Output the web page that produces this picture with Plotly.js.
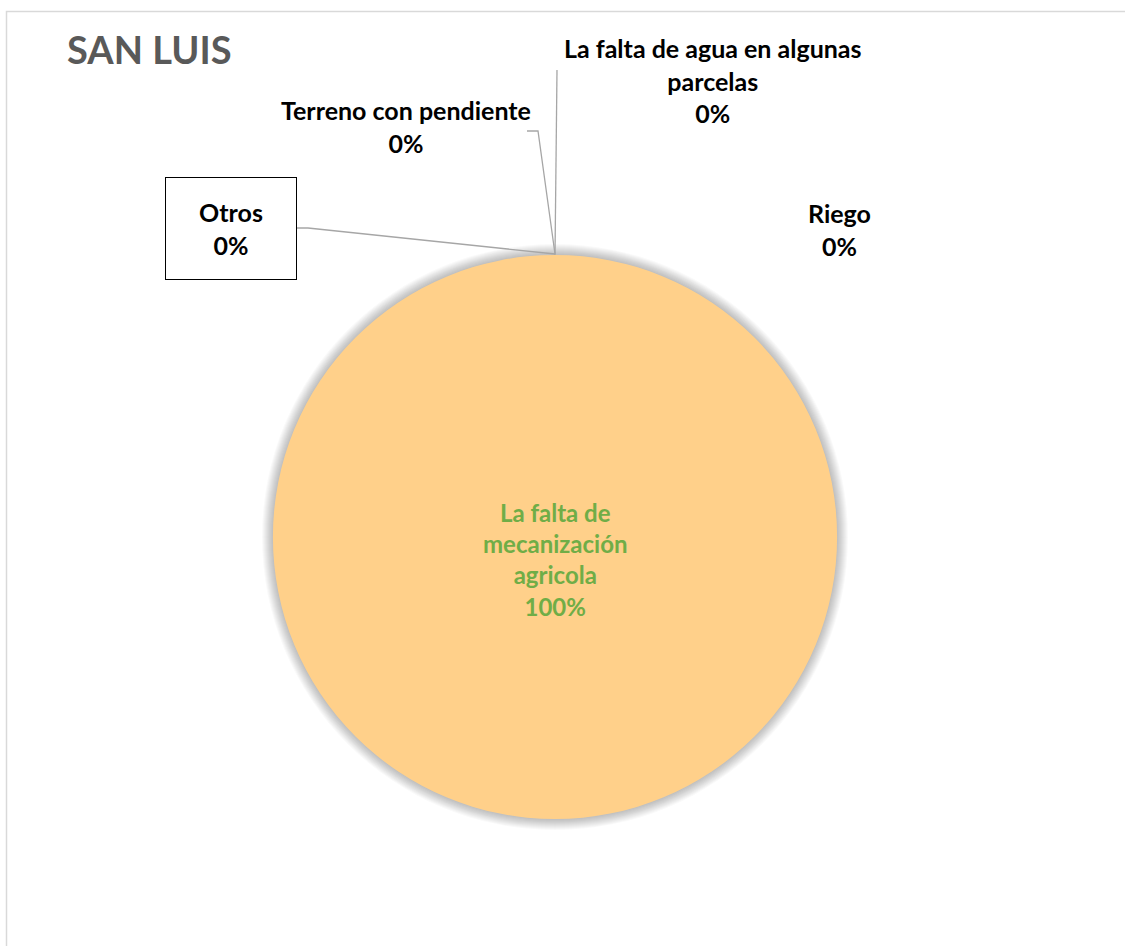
<!DOCTYPE html>
<html>
<head>
<meta charset="utf-8">
<script src="https://cdn.plot.ly/plotly-3.0.1.min.js"></script>
<style>html,body{margin:0;padding:0;background:#fff;}#chart{width:1125px;height:946px;}</style>
</head>
<body>
<div id="chart"></div>
<script>
// ---- data ----
const chartTitle = "SAN LUIS";
const categories = [
  "La falta de mecanización agricola",
  "Riego",
  "La falta de agua en algunas parcelas",
  "Terreno con pendiente",
  "Otros"
];
const displayLabels = [
  "La falta de<br>mecanización<br>agricola",
  "Riego",
  "La falta de agua en algunas<br>parcelas",
  "Terreno con pendiente",
  "Otros"
];
const values = [100, 0, 0, 0, 0];
const sliceColors = ["#FFD08A", "#A5A5A5", "#4472C4", "#ED7D31", "#5B9BD5"];

// ---- helpers ----
const W = 1125, H = 946;
const px = x => x / W;
const py = y => 1 - y / H;
const total = values.reduce((a, b) => a + b, 0);
const pct = v => Math.round(v / total * 100) + "%";

const cx = 555, cy = 537, R = 282;

const trace = {
  type: "pie",
  labels: categories,
  values: values,
  sort: false,
  direction: "clockwise",
  rotation: 0,
  marker: { colors: sliceColors, line: { color: "#FFD08A", width: 0 } },
  textinfo: "none",
  hoverinfo: "label+percent",
  domain: { x: [px(cx - R), px(cx + R)], y: [py(cy + R), py(cy - R)] },
  showlegend: false
};

const FONT = "Lato, 'Open Sans', sans-serif";
const labelFont = { family: FONT, size: 25, color: "#000000", weight: "bold" };

// label anchor positions (text centres)
const labelPos = {
  "La falta de mecanización agricola": [555, 559],
  "Riego": [839, 230],
  "La falta de agua en algunas parcelas": [713, 81],
  "Terreno con pendiente": [406, 127],
  "Otros": [231, 228]
};

const annotations = categories.map((c, i) => {
  const p = labelPos[c];
  const a = {
    xref: "paper", yref: "paper",
    x: px(p[0]), y: py(p[1]),
    xanchor: "center", yanchor: "middle",
    text: displayLabels[i] + "<br>" + pct(values[i]),
    showarrow: false,
    align: "center",
    font: Object.assign({}, labelFont)
  };
  if (i === 0) {
    a.font = { family: FONT, size: 24, color: "#70AD47", weight: "bold" };
  }
  if (c === "Otros") {
    a.bordercolor = "#000000";
    a.borderwidth = 1;
    a.borderpad = 0;
    a.width = 130;
    a.height = 101;
    a.bgcolor = "#FFFFFF";
  }
  return a;
});

const shapes = [];
// chart frame (top and left border visible)
shapes.push({
  type: "rect", xref: "paper", yref: "paper",
  x0: px(6.5), y0: py(11.5), x1: 1.05, y1: -0.05,
  line: { color: "#D9D9D9", width: 1.5 }, layer: "below"
});
// soft shadow around pie
for (let k = 1; k <= 11; k++) {
  shapes.push({
    type: "circle", xref: "paper", yref: "paper",
    xsizemode: "pixel", ysizemode: "pixel",
    xanchor: px(cx), yanchor: py(cy),
    x0: -(R + k), x1: R + k, y0: -(R + k), y1: R + k,
    fillcolor: "rgba(0,0,0,0.022)", line: { width: 0 }, layer: "below"
  });
}
// leader lines
const lineStyle = { color: "#A6A6A6", width: 1.3 };
const P = (x, y) => px(x) + "," + py(y);
shapes.push({ type: "path", xref: "paper", yref: "paper", path: "M" + P(555, 255) + " L" + P(557, 70), line: lineStyle });
shapes.push({ type: "path", xref: "paper", yref: "paper", path: "M" + P(555, 254) + " L" + P(538, 131) + " L" + P(527, 131), line: lineStyle });
shapes.push({ type: "path", xref: "paper", yref: "paper", path: "M" + P(555, 254) + " L" + P(308, 228) + " L" + P(297, 228), line: lineStyle });

const layout = {
  width: W, height: H,
  margin: { l: 0, r: 0, t: 0, b: 0 },
  paper_bgcolor: "#FFFFFF",
  showlegend: false,
  title: {
    text: chartTitle,
    x: px(67), xanchor: "left", xref: "paper",
    y: py(51), yanchor: "middle", yref: "paper",
    font: { family: FONT, size: 38, color: "#595959", weight: "bold" }
  },
  shapes: shapes,
  annotations: annotations
};

Plotly.newPlot("chart", [trace], layout, { displayModeBar: false, staticPlot: true });
</script>
</body>
</html>
